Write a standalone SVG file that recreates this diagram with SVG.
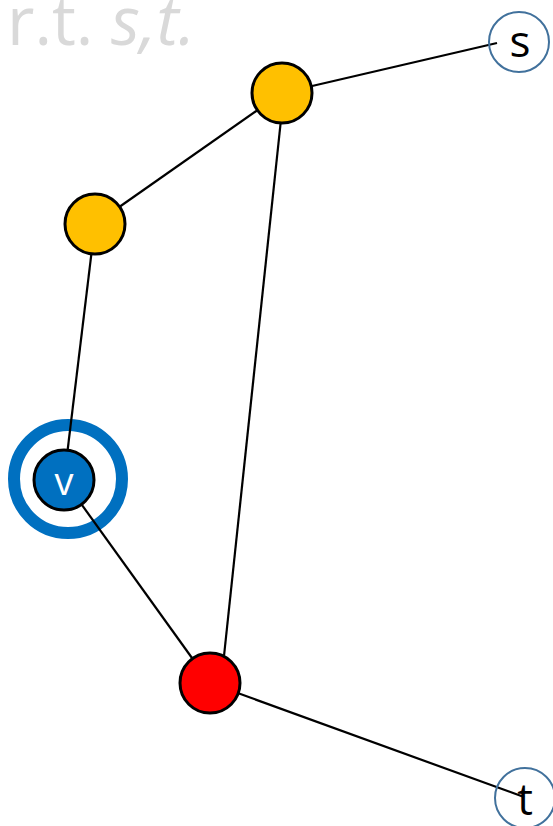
<svg xmlns="http://www.w3.org/2000/svg" width="553" height="826" viewBox="0 0 553 826">
  <style>
    .edge { stroke: #000; stroke-width: 2.2; fill: none; }
    .inner { stroke: #000; stroke-width: 3; }
    .term { fill: #fff; stroke: #41719c; stroke-width: 2; }
    .lbl { font-family: "Open Sans", "Liberation Sans", sans-serif; text-anchor: middle; }
  </style>
  <rect width="553" height="826" fill="#fff"/>

  <!-- caption, partly clipped by the top edge -->
  <text x="7" y="45" font-family="Open Sans, Liberation Sans, sans-serif" font-size="67" fill="#d9d9d9">r.t. <tspan font-style="italic">s,t.</tspan></text>

  <!-- highlight ring around v -->
  <circle cx="68" cy="479" r="54" fill="none" stroke="#0070c0" stroke-width="12"/>

  <g id="edges">
    <line class="edge" x1="282" y1="93" x2="497" y2="43"/>
    <line class="edge" x1="282" y1="93" x2="95" y2="224"/>
    <line class="edge" x1="282" y1="110" x2="224" y2="656"/>
    <line class="edge" x1="95" y1="224" x2="64" y2="480"/>
    <line class="edge" x1="64" y1="480" x2="210" y2="683"/>
    <line class="edge" x1="210" y1="683" x2="524" y2="797"/>
  </g>

  <g id="node-s">
    <circle class="term" cx="519" cy="42" r="30" fill-opacity="0"/>
    <text class="lbl" x="520" y="57" font-size="44">s</text>
  </g>
  <g id="node-a">
    <circle class="inner" cx="282" cy="93" r="30" fill="#ffc000"/>
  </g>
  <g id="node-b">
    <circle class="inner" cx="95" cy="224" r="30" fill="#ffc000"/>
  </g>
  <g id="node-v">
    <circle class="inner" cx="64" cy="480" r="30" fill="#0070c0"/>
    <text class="lbl" x="64" y="495" font-size="38" fill="#fff">v</text>
  </g>
  <g id="node-r">
    <circle class="inner" cx="210" cy="683" r="30" fill="#ff0000"/>
  </g>
  <g id="node-t">
    <circle class="term" cx="525" cy="798" r="30" fill-opacity="0"/>
    <text class="lbl" x="525" y="815" font-size="44">t</text>
  </g>
</svg>
